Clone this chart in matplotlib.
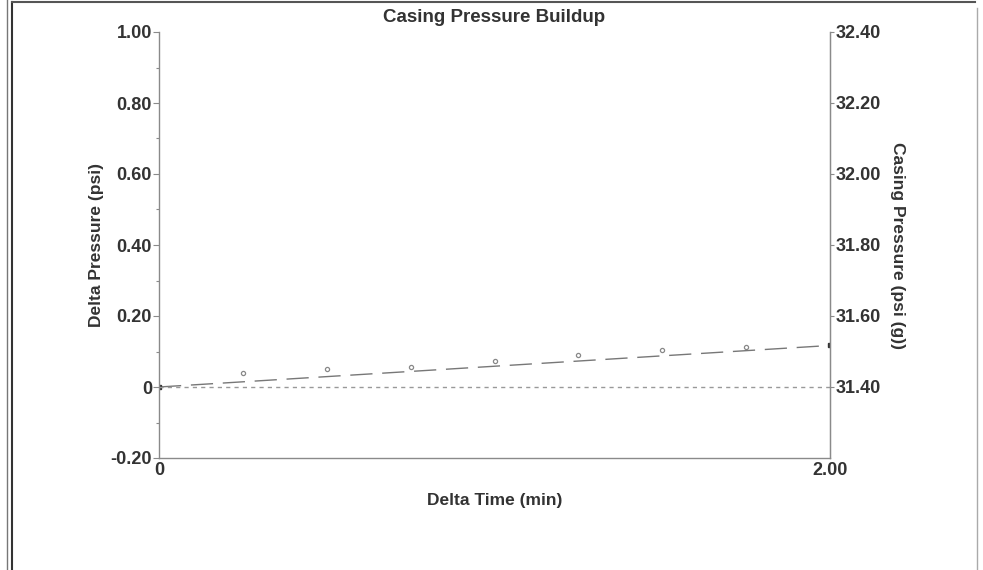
import numpy as np
import matplotlib.pyplot as plt
from matplotlib.lines import Line2D

plt.rcParams['font.family'] = ['Liberation Sans', 'DejaVu Sans']
plt.rcParams['font.weight'] = 'bold'

# data
delta_time = [0.25, 0.50, 0.75, 1.00, 1.25, 1.50, 1.75]
delta_pressure = [0.040, 0.052, 0.057, 0.073, 0.090, 0.105, 0.114]
trend_time = [0.0, 2.0]
trend_pressure = [0.0, 0.117]
base_pressure = 31.40

txt = '#333333'
axc = '#8a8a8a'

fig = plt.figure(figsize=(9.83, 5.70), dpi=100)
ax = fig.add_axes([159/983, 1-458/570, (830-159)/983, (458-32)/570])

ax.plot(delta_time, delta_pressure, 'o', ms=3, mfc='none', mec='#888888', mew=0.9)
ax.plot(trend_time, trend_pressure, ls=(0, (16, 7)), color='#777777', lw=1.0)
ax.plot(trend_time, trend_pressure, 's', ms=3, color='#333333', ls='none')
ax.axhline(0, color='#999999', lw=1.0, ls=(0, (3, 3)))

ax.set_xlim(0, 2.0)
ax.set_ylim(-0.20, 1.00)
ax.set_xticks([0, 2.0])
ax.set_xticklabels(['0', '2.00'])
ax.set_yticks([-0.20, 0, 0.20, 0.40, 0.60, 0.80, 1.00])
ax.set_yticklabels(['-0.20', '0', '0.20', '0.40', '0.60', '0.80', '1.00'])
ax.set_yticks(np.arange(-0.1, 1.0, 0.2), minor=True)
ax.tick_params(axis='y', which='major', length=4, width=0.8, color=axc, labelsize=13, labelcolor=txt, pad=1)
ax.tick_params(axis='y', which='minor', length=2, width=0.8, color=axc)
ax.tick_params(axis='x', length=0, labelsize=13, labelcolor=txt, pad=3)
for side in ['left', 'bottom', 'right']:
    ax.spines[side].set_color(axc)
    ax.spines[side].set_linewidth(1.0)
ax.spines['top'].set_visible(False)

ax.set_title('Casing Pressure Buildup', fontsize=13.5, fontweight='bold', color=txt, pad=7)
ax.set_xlabel('Delta Time (min)', fontsize=12.5, fontweight='bold', color=txt, labelpad=10)
ax.set_ylabel('Delta Pressure (psi)', fontsize=12.5, fontweight='bold', color=txt, labelpad=5)

ax2 = ax.twinx()
ax2.set_ylim(-0.20 + base_pressure, 1.00 + base_pressure)
rt = [31.40, 31.60, 31.80, 32.00, 32.20, 32.40]
ax2.set_yticks(rt)
ax2.set_yticklabels(['%.2f' % v for v in rt])
ax2.tick_params(axis='y', length=3, width=0.8, color=axc, labelsize=13, labelcolor=txt, pad=1)
ax2.spines['top'].set_visible(False)
ax2.spines['right'].set_color(axc)
ax2.spines['left'].set_visible(False)
ax2.spines['bottom'].set_visible(False)
ax2.set_ylabel('Casing Pressure (psi (g))', fontsize=12.5, fontweight='bold', color=txt,
               rotation=-90, labelpad=17)

# page frame of the scanned report
fig.add_artist(Line2D([7/983, 7/983], [0, 1], color='#777777', lw=1.0))
fig.add_artist(Line2D([12/983, 12/983], [0, 1 - 2/570], color='#333333', lw=1.5))
fig.add_artist(Line2D([12/983, 975/983], [1 - 2/570, 1 - 2/570], color='#555555', lw=1.5))
fig.add_artist(Line2D([977/983, 977/983], [0, 1 - 8/570], color='#aaaaaa', lw=1.0))

fig.savefig('out.png', dpi=100)
